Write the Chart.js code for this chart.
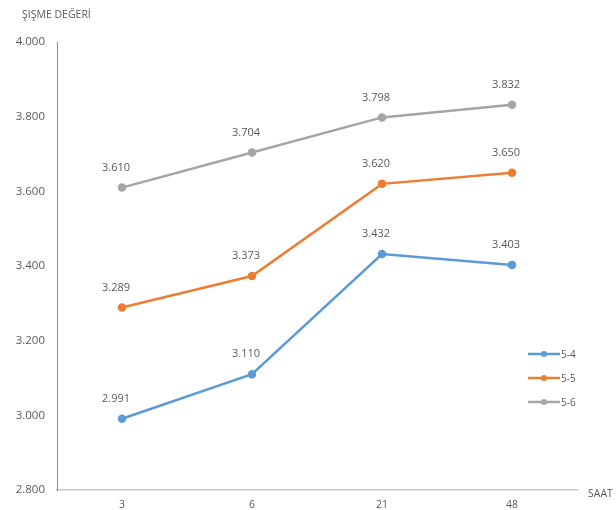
<!DOCTYPE html>
<html>
<head>
<meta charset="utf-8">
<script src="https://cdn.jsdelivr.net/npm/chart.js@4.4.1/dist/chart.umd.min.js"></script>
<style>
  html, body { margin: 0; padding: 0; background: #ffffff; }
  #wrap { width: 616px; height: 510px; position: relative; }
</style>
</head>
<body>
<div id="wrap"><canvas id="c" width="616" height="510"></canvas></div>
<script>
// Swelling values measured at each time point (hours)
const hours = ['3', '6', '21', '48'];
const series54 = [2.991, 3.110, 3.432, 3.403];
const series55 = [3.289, 3.373, 3.620, 3.650];
const series56 = [3.610, 3.704, 3.798, 3.832];
const seriesNames = ['5-4', '5-5', '5-6'];
const yTicks = [2.8, 3.0, 3.2, 3.4, 3.6, 3.8, 4.0];
const yTitle = 'ŞIŞME DEĞERİ';
const xTitle = 'SAAT';

const colors = ['#5B9BD5', '#ED7D31', '#A5A5A5'];
const textColor = '#595959';
const fontFamily = '"Open Sans", "Liberation Sans", sans-serif';

function makeSet(name, data, color) {
  return {
    label: name,
    data: data,
    borderColor: color,
    backgroundColor: color,
    borderWidth: 2.5,
    pointRadius: 3,
    pointHoverRadius: 3,
    pointStyle: 'circle',
    tension: 0,
    fill: false
  };
}

// Value labels above each point, axis titles and a compact legend
const decorations = {
  id: 'decorations',
  afterDatasetsDraw(chart) {
    const ctx = chart.ctx;
    ctx.save();
    ctx.font = '11px ' + fontFamily;
    ctx.fillStyle = textColor;
    ctx.textAlign = 'center';
    ctx.textBaseline = 'middle';
    chart.data.datasets.forEach((ds, i) => {
      const meta = chart.getDatasetMeta(i);
      meta.data.forEach((pt, j) => {
        ctx.fillText(ds.data[j].toFixed(3), pt.x - 6, pt.y - 20);
      });
    });

    // axis titles
    ctx.font = '10.5px ' + fontFamily;
    ctx.textAlign = 'left';
    ctx.fillText(yTitle, 22, 15);
    ctx.fillText(xTitle, chart.chartArea.right + 11, chart.chartArea.bottom + 4);

    // legend
    const lx = 528, ly0 = 354, gap = 24;
    chart.data.datasets.forEach((ds, i) => {
      const y = ly0 + i * gap;
      ctx.strokeStyle = ds.borderColor;
      ctx.lineWidth = 2.5;
      ctx.beginPath();
      ctx.moveTo(lx, y);
      ctx.lineTo(lx + 32, y);
      ctx.stroke();
      ctx.fillStyle = ds.borderColor;
      ctx.beginPath();
      ctx.arc(lx + 16, y, 3, 0, Math.PI * 2);
      ctx.fill();
      ctx.fillStyle = textColor;
      ctx.font = '10px ' + fontFamily;
      ctx.fillText(ds.label, lx + 33, y + 1);
    });
    ctx.restore();
  }
};

new Chart(document.getElementById('c'), {
  type: 'line',
  data: {
    labels: hours,
    datasets: [
      makeSet(seriesNames[0], series54, colors[0]),
      makeSet(seriesNames[1], series55, colors[1]),
      makeSet(seriesNames[2], series56, colors[2])
    ]
  },
  options: {
    responsive: false,
    animation: false,
    layout: { padding: { left: 0, top: 42, right: 39, bottom: 0 } },
    plugins: {
      legend: { display: false },
      tooltip: { enabled: false }
    },
    scales: {
      x: {
        offset: true,
        grid: { display: false, drawTicks: false },
        border: { display: true, color: '#c8c8c8', width: 1.5 },
        ticks: {
          color: textColor,
          font: { size: 10.5, family: fontFamily },
          padding: 9
        },
        afterFit(scale) { scale.height = 20; }
      },
      y: {
        min: yTicks[0],
        max: yTicks[yTicks.length - 1],
        afterBuildTicks(scale) {
          scale.ticks = yTicks.map(v => ({ value: v }));
        },
        grid: { display: false, drawTicks: false },
        border: { display: true, color: '#8c8c8c', width: 1 },
        ticks: {
          color: textColor,
          font: { size: 11.5, family: fontFamily },
          padding: 12,
          callback: v => Number(v).toFixed(3)
        },
        afterFit(scale) { scale.width = 57; }
      }
    }
  },
  plugins: [decorations]
});
</script>
</body>
</html>
